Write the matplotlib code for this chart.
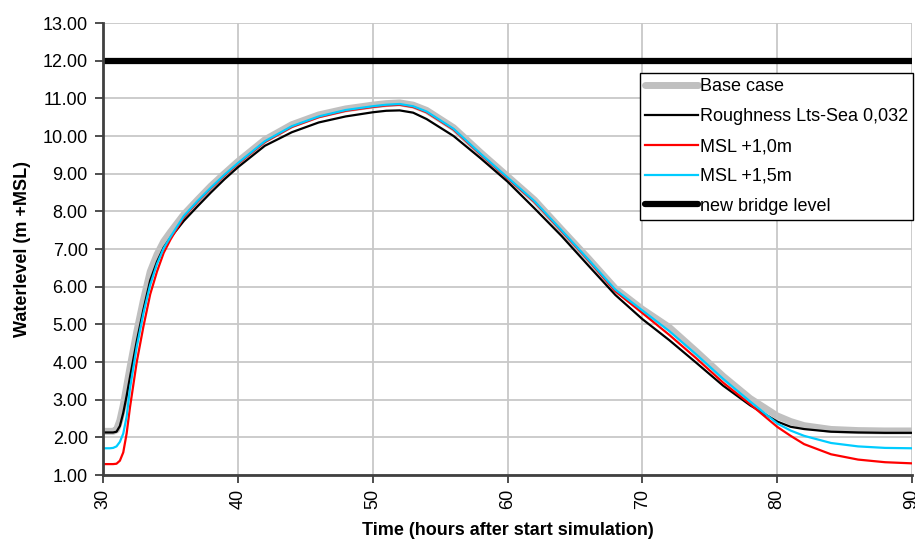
import matplotlib
matplotlib.use("Agg")
import matplotlib.pyplot as plt
from matplotlib.ticker import FormatStrFormatter

# --- data ---
hours = [30, 30.5, 30.75, 31, 31.25, 31.5, 31.75, 32, 32.5, 33, 33.5, 34, 34.5, 35,
         36, 37, 38, 39, 40, 42, 44, 46, 48, 50,
         51, 52, 53, 54, 56, 58, 60, 62, 64, 66, 68, 70,
         72, 74, 76, 78, 80, 81, 82, 84, 86, 88, 90]

base_case = [2.16, 2.16, 2.16, 2.2, 2.45, 2.85, 3.35, 3.85, 4.8, 5.65, 6.4, 6.85, 7.2, 7.45,
             7.92, 8.3, 8.67, 9.0, 9.32, 9.9, 10.3, 10.56, 10.72, 10.82,
             10.86, 10.88, 10.82, 10.68, 10.22, 9.56, 8.93, 8.3, 7.52, 6.75, 5.95, 5.4,
             4.92, 4.28, 3.62, 3.03, 2.57, 2.42, 2.31, 2.21, 2.18, 2.17, 2.17]

roughness = [2.13, 2.13, 2.13, 2.15, 2.3, 2.65, 3.1, 3.6, 4.55, 5.4, 6.17, 6.66, 7.04, 7.3,
             7.75, 8.13, 8.5, 8.85, 9.17, 9.74, 10.1, 10.36, 10.52, 10.63,
             10.67, 10.68, 10.62, 10.45, 10.0, 9.41, 8.79, 8.08, 7.35, 6.56, 5.78, 5.14,
             4.58, 3.98, 3.37, 2.85, 2.42, 2.28, 2.22, 2.15, 2.13, 2.12, 2.12]

msl_10 = [1.29, 1.29, 1.29, 1.3, 1.38, 1.6, 2.1, 2.8, 4.0, 4.95, 5.8, 6.4, 6.9, 7.25,
          7.85, 8.25, 8.61, 8.95, 9.26, 9.84, 10.24, 10.5, 10.67, 10.77,
          10.81, 10.83, 10.77, 10.63, 10.17, 9.51, 8.88, 8.25, 7.48, 6.7, 5.88, 5.3,
          4.72, 4.1, 3.45, 2.88, 2.28, 2.04, 1.82, 1.55, 1.41, 1.34, 1.31]

msl_15 = [1.71, 1.71, 1.72, 1.76, 1.88, 2.1, 2.55, 3.3, 4.4, 5.3, 6.05, 6.6, 7.02, 7.32,
          7.88, 8.27, 8.63, 8.97, 9.28, 9.86, 10.26, 10.52, 10.69, 10.79,
          10.83, 10.85, 10.79, 10.65, 10.19, 9.53, 8.9, 8.27, 7.5, 6.72, 5.92, 5.37,
          4.82, 4.2, 3.55, 2.95, 2.37, 2.18, 2.04, 1.85, 1.76, 1.72, 1.71]

bridge_hours = [30, 90]
bridge_level = [12.0, 12.0]

x_ticks = [30, 40, 50, 60, 70, 80, 90]
y_ticks = [1, 2, 3, 4, 5, 6, 7, 8, 9, 10, 11, 12, 13]

# --- plot ---
plt.rcParams["font.family"] = ["Liberation Sans", "DejaVu Sans"]

fig = plt.figure(figsize=(9.15, 5.39), dpi=100)
ax = fig.add_axes([0.1126, 0.1187, 0.8841, 0.8386])

ax.plot(hours, base_case, c="#c0c0c0", lw=5, solid_capstyle="round", label="Base case")
ax.plot(hours, roughness, c="black", lw=1.6, label="Roughness Lts-Sea 0,032")
ax.plot(hours, msl_10, c="#ff0000", lw=1.6, label="MSL +1,0m")
ax.plot(hours, msl_15, c="#00ccff", lw=1.6, label="MSL +1,5m")
ax.plot(bridge_hours, bridge_level, c="black", lw=4.5, solid_capstyle="round",
        label="new bridge level")

ax.set_xlim(30, 90)
ax.set_ylim(1, 13)
ax.set_xticks(x_ticks)
ax.set_yticks(y_ticks)
ax.yaxis.set_major_formatter(FormatStrFormatter("%.2f"))
ax.tick_params(axis="x", labelrotation=90, labelsize=13, length=6, width=1.3,
               color="#404040", pad=4)
ax.tick_params(axis="y", labelsize=13, length=6, width=1.3, color="#404040", pad=5)

ax.grid(True, color="#c8c8c8", lw=1.3)
ax.set_axisbelow(True)
for side in ["top", "right"]:
    ax.spines[side].set_visible(False)
for side in ["left", "bottom"]:
    ax.spines[side].set_color("#404040")
    ax.spines[side].set_linewidth(2)

ax.set_xlabel("Time (hours after start simulation)", fontsize=13, fontweight="bold",
              labelpad=9)
ax.set_ylabel("Waterlevel (m +MSL)", fontsize=13, fontweight="bold", labelpad=8)

leg = ax.legend(loc="upper left", bbox_to_anchor=(0.6995, 0.8646),
                bbox_transform=fig.transFigure, fontsize=13, frameon=True,
                fancybox=False, framealpha=1, edgecolor="black",
                borderaxespad=0, borderpad=0.3, handlelength=2.9,
                handletextpad=0.1, labelspacing=0.71)
leg.get_frame().set_linewidth(1.0)

fig.savefig("out.png", dpi=100)
